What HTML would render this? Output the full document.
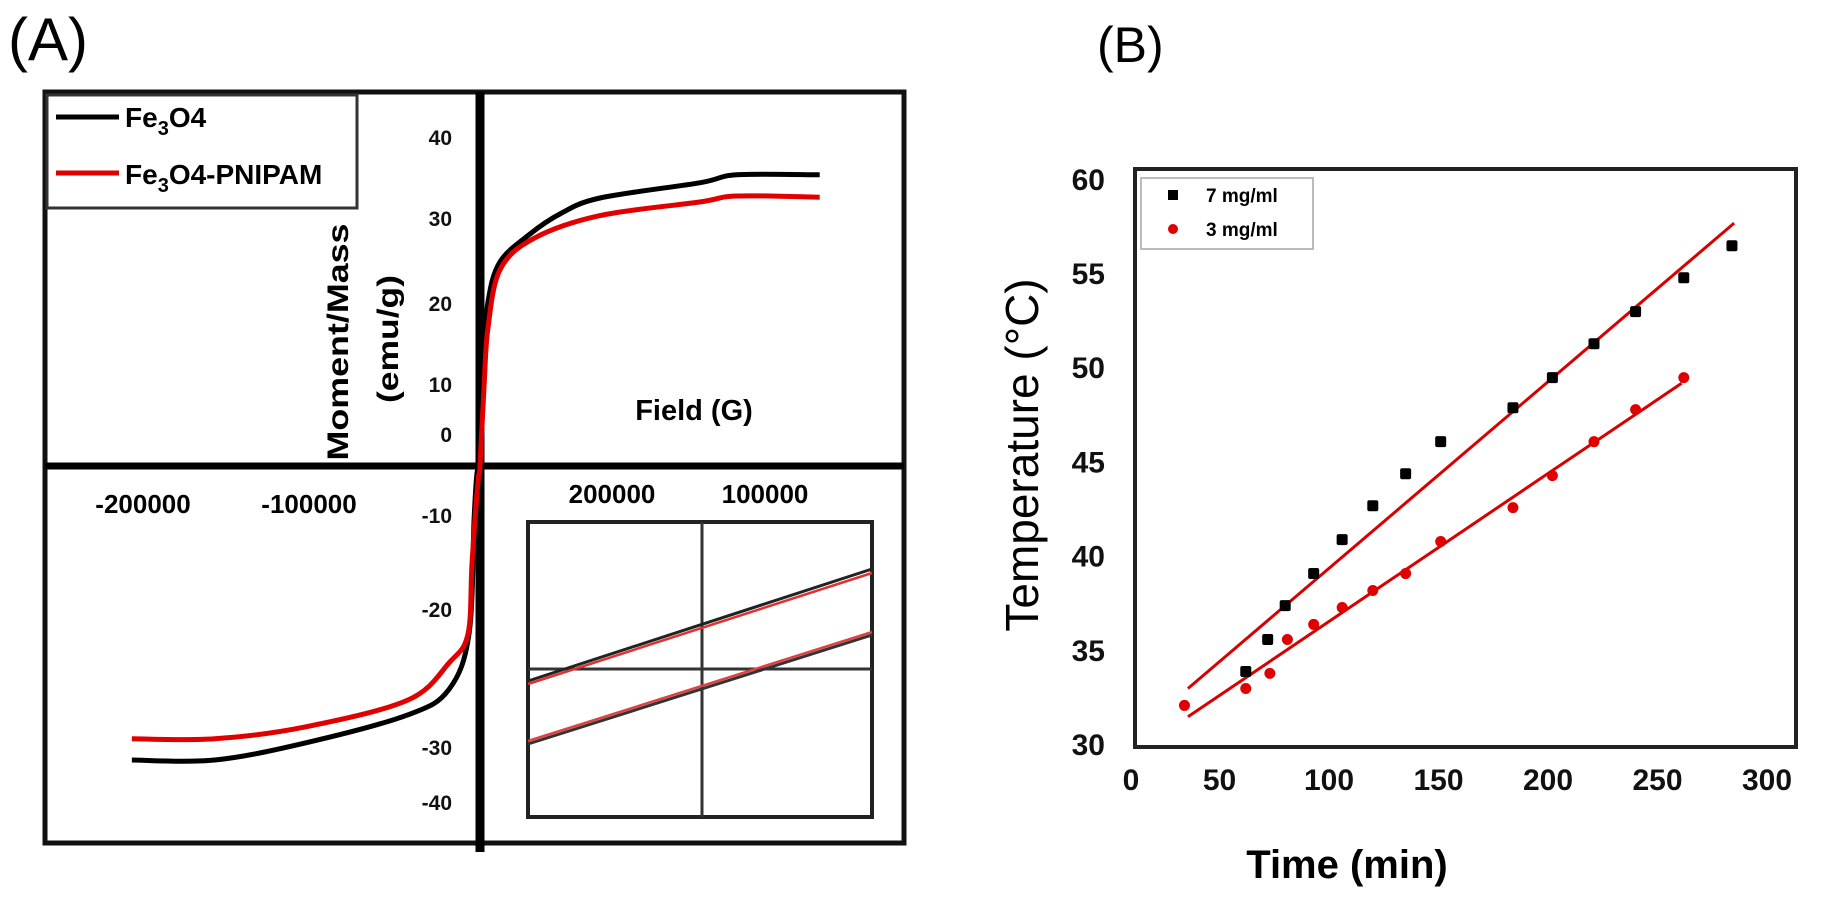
<!DOCTYPE html>
<html><head><meta charset="utf-8"><style>
html,body{margin:0;padding:0;background:#fff;}
svg{display:block;font-family:"Liberation Sans",sans-serif;}
</style></head><body>
<svg id="fig" width="1821" height="904" viewBox="0 0 1821 904">
<g id="panelA">
  <text x="8" y="60" font-size="60">(A)</text>
  <rect x="45" y="92" width="859" height="751" fill="none" stroke="#111" stroke-width="5"/>
  <line x1="480" y1="92" x2="480" y2="852" stroke="#000" stroke-width="9"/>
  <line x1="45" y1="466" x2="904" y2="466" stroke="#000" stroke-width="7"/>
  <g id="ticksA" font-weight="bold" font-size="21" fill="#111"></g>
  <text x="348" y="342" transform="rotate(-90 348 342)" text-anchor="middle" font-weight="bold" font-size="30" textLength="237" lengthAdjust="spacingAndGlyphs">Moment/Mass</text>
  <text x="398" y="339" transform="rotate(-90 398 339)" text-anchor="middle" font-weight="bold" font-size="30" textLength="128" lengthAdjust="spacingAndGlyphs">(emu/g)</text>
  <text x="694" y="420" text-anchor="middle" font-weight="bold" font-size="29">Field (G)</text>
  <g font-weight="bold" font-size="26" text-anchor="middle">
    <text x="143" y="513">-200000</text>
    <text x="309" y="513">-100000</text>
    <text x="612" y="503">200000</text>
    <text x="765" y="503">100000</text>
  </g>
  <g id="curvesA"></g>
  <g>
    <rect x="47" y="95" width="310" height="113" fill="#fff" stroke="#333" stroke-width="3"/>
    <line x1="56" y1="117" x2="119" y2="117" stroke="#000" stroke-width="5"/>
    <text x="125" y="127" font-weight="bold" font-size="28">Fe<tspan font-size="20" dy="8">3</tspan><tspan dy="-8">O4</tspan></text>
    <line x1="56" y1="173" x2="119" y2="173" stroke="#e00000" stroke-width="5"/>
    <text x="125" y="184" font-weight="bold" font-size="28">Fe<tspan font-size="20" dy="8">3</tspan><tspan dy="-8">O4-PNIPAM</tspan></text>
  </g>
  <g>
    <rect x="528" y="522" width="344" height="295" fill="#fff" stroke="#222" stroke-width="4"/>
    <line x1="702" y1="522" x2="702" y2="817" stroke="#333" stroke-width="3"/>
    <line x1="528" y1="669" x2="872" y2="669" stroke="#333" stroke-width="3"/>
    <line x1="528" y1="681" x2="872" y2="569" stroke="#222" stroke-width="3"/>
    <line x1="528" y1="684" x2="872" y2="573" stroke="#e03030" stroke-width="2.5"/>
    <line x1="528" y1="744" x2="872" y2="635" stroke="#333" stroke-width="3"/>
    <line x1="528" y1="741" x2="872" y2="632" stroke="#e04040" stroke-width="2.5"/>
  </g>
</g>
<g id="panelB">
  <text x="1097" y="62" font-size="50">(B)</text>
  <rect x="1135" y="169" width="661" height="578" fill="none" stroke="#222" stroke-width="4"/>
  <g id="ticksB" font-weight="bold" font-size="30" fill="#111"></g>
  <text x="1038" y="455" transform="rotate(-90 1038 455)" text-anchor="middle" font-size="46">Temperature (°C)</text>
  <text x="1347" y="878" text-anchor="middle" font-weight="bold" font-size="40">Time (min)</text>
  <g id="marksB"></g>
  <g>
    <rect x="1141" y="178" width="172" height="71" fill="#fff" stroke="#bbb" stroke-width="2"/>
    <rect x="1168" y="190" width="10" height="10" fill="#000"/>
    <text x="1206" y="202" font-weight="bold" font-size="19">7 mg/ml</text>
    <circle cx="1173" cy="229" r="5" fill="#e00000"/>
    <text x="1206" y="236" font-weight="bold" font-size="19">3 mg/ml</text>
  </g>
</g>
</svg>
<script>
// ---- Panel A data (field in G, moment in emu/g) ----
const yTickLabelsA = ["40","30","20","10","0","-10","-20","-30","-40"];
const yTickPosA = [138,219,304,385,435,516,610,748,803];
const fe3o4Field = [-206000,-157000,-103000,-42600,-18300,-6500,-3500,-1800,0,2400,4700,11800,29600,47300,71000,130000,152000,201000];
const fe3o4Moment = [-36.75,-36.75,-34.6,-31.1,-27.9,-21,-6.6,-0.9,0,13,20.4,25.5,29,31.5,33.5,35.4,36.4,36.4];
const pnipamField = [-206000,-157000,-103000,-42600,-18300,-7100,-4700,-1200,0,2400,4700,11800,31400,71000,130000,152000,201000];
const pnipamMoment = [-34.1,-34.1,-32.6,-29.25,-24.6,-21,-12,-2,0,10,17.2,24.5,28.4,31.3,33,33.75,33.6];
// ---- Panel B data ----
const xTicksB = [0,50,100,150,200,250,300];
const yTicksB = [30,35,40,45,50,55,60];
const time7 = [62,72,80,93,106,120,135,151,184,202,221,240,262,284];
const temp7 = [33.9,35.6,37.4,39.1,40.9,42.7,44.4,46.1,47.9,49.5,51.3,53.0,54.8,56.5];
const time3 = [34,62,73,81,93,106,120,135,151,184,202,221,240,262];
const temp3 = [32.1,33.0,33.8,35.6,36.4,37.3,38.2,39.1,40.8,42.6,44.3,46.1,47.8,49.5];
const fit7T = [35.6,285];
const fit7V = [33.0,57.7];
const fit3T = [35.6,261];
const fit3V = [31.5,49.2];

const NS="http://www.w3.org/2000/svg";
function mk(tag,attrs,parent){const e=document.createElementNS(NS,tag);for(const k in attrs)e.setAttribute(k,attrs[k]);parent.appendChild(e);return e;}
const xA=f=>480+f*0.00169, yA=m=>466-m*8;
const xB=t=>1110+t*2.19, yB=v=>745-(v-30)*18.84;

const ta=document.getElementById('ticksA');
yTickLabelsA.forEach((l,i)=>{const t=mk('text',{x:452,y:yTickPosA[i]+7,'text-anchor':'end'},ta);t.textContent=l;

});

const ca=document.getElementById('curvesA');
function smoothPath(pts){
  let d='M'+pts[0][0]+','+pts[0][1];
  for(let i=0;i<pts.length-1;i++){
    const p0=pts[Math.max(0,i-1)],p1=pts[i],p2=pts[i+1],p3=pts[Math.min(pts.length-1,i+2)];
    const c1=[p1[0]+(p2[0]-p0[0])/6,p1[1]+(p2[1]-p0[1])/6];
    const c2=[p2[0]-(p3[0]-p1[0])/6,p2[1]-(p3[1]-p1[1])/6];
    d+=' C'+c1[0].toFixed(1)+','+c1[1].toFixed(1)+' '+c2[0].toFixed(1)+','+c2[1].toFixed(1)+' '+p2[0].toFixed(1)+','+p2[1].toFixed(1);
  }
  return d;
}
function curve(xs,ys,fx,fy,color,w,parent,name){
  const pts=xs.map((x,i)=>[fx(x),fy(ys[i])]);
  const p=mk('path',{d:smoothPath(pts),fill:'none',stroke:color,'stroke-width':w,'stroke-linejoin':'round'},parent);
  
  
}
function poly(xs,ys,fx,fy,color,w,parent,name){
  const p=mk('polyline',{points:xs.map((x,i)=>fx(x)+','+fy(ys[i])).join(' '),fill:'none',stroke:color,'stroke-width':w},parent);
  
  
}
curve(fe3o4Field,fe3o4Moment,xA,yA,'#000',5,ca,'fe3o4-curve');
curve(pnipamField,pnipamMoment,xA,yA,'#e00000',5,ca,'fe3o4-pnipam-curve');

const tb=document.getElementById('ticksB');
xTicksB.forEach(v=>{const t=mk('text',{x:Math.max(xB(v),1131),y:790,'text-anchor':'middle'},tb);t.textContent=v;

});
yTicksB.forEach(v=>{const t=mk('text',{x:1105,y:yB(v)+10,'text-anchor':'end'},tb);t.textContent=v;

});

const mb=document.getElementById('marksB');
poly(fit7T,fit7V,xB,yB,'#d80000',3,mb,'trendline-7mg');
poly(fit3T,fit3V,xB,yB,'#d80000',3,mb,'trendline-3mg');
time3.forEach((t,i)=>{const c=mk('circle',{cx:xB(t),cy:yB(temp3[i]),r:5.5,fill:'#e00000'},mb);

});
time7.forEach((t,i)=>{const r=mk('rect',{x:xB(t)-5.5,y:yB(temp7[i])-5.5,width:11,height:11,rx:2,fill:'#000'},mb);

});
</script>
</body></html>
